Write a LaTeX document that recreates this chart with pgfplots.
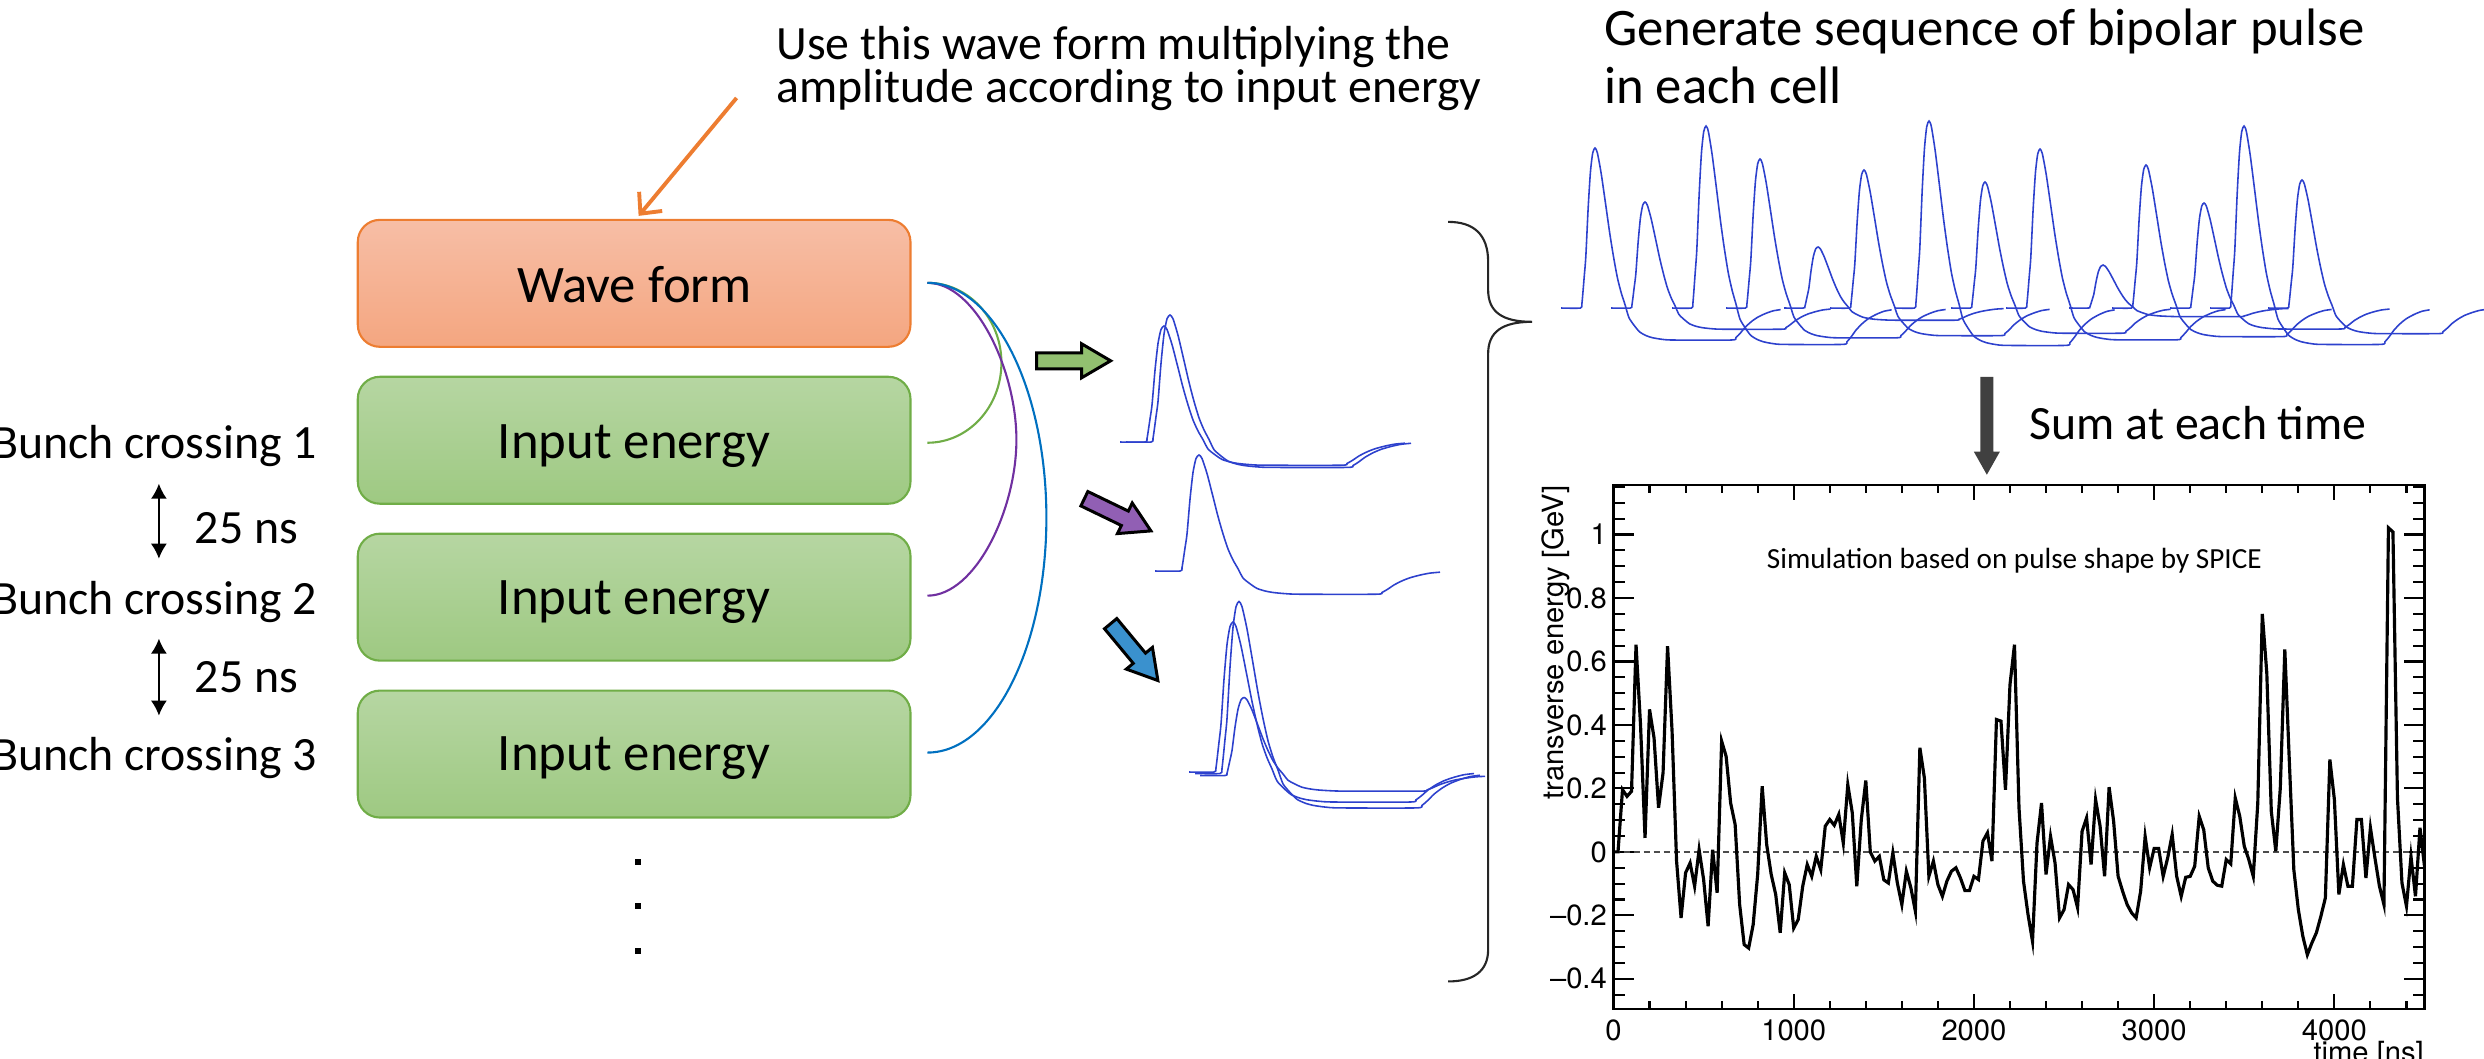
\documentclass[border=0pt]{standalone}
\usepackage{fontspec}
\setmainfont{Carlito}
\newfontfamily\helv{TeX Gyre Heros}
\usepackage{pgfplots}
\usepackage{pgfplotstable}
\pgfplotsset{compat=1.18}
\usetikzlibrary{arrows.meta}

\definecolor{pulseblue}{RGB}{45,65,205}
\definecolor{orline}{RGB}{237,125,49}
\definecolor{ortop}{RGB}{247,190,166}
\definecolor{orbot}{RGB}{244,166,128}
\definecolor{grline}{RGB}{112,173,71}
\definecolor{grtop}{RGB}{182,214,162}
\definecolor{grbot}{RGB}{158,201,130}
\definecolor{cgreen}{RGB}{112,173,71}
\definecolor{cpurple}{RGB}{112,48,160}
\definecolor{cblue}{RGB}{0,112,192}
\definecolor{agreen}{RGB}{146,192,112}
\definecolor{apurple}{RGB}{145,95,180}
\definecolor{ablue}{RGB}{58,145,206}
\definecolor{darrow}{RGB}{64,64,64}

\newcommand\fsA{\fontsize{13.6}{16}\selectfont}
\newcommand\fsB{\fontsize{15}{18}\selectfont}
\newcommand\fsBox{\fontsize{15}{18}\selectfont}
\newcommand\fsSim{\fontsize{8.3}{10}\selectfont}
\newcommand\fsTick{\helv\fontsize{8.3}{10}\selectfont}

\pgfplotsset{pl/.style={pulseblue, line width=0.45pt, smooth, tension=0.4, mark=none}}

% unit bipolar pulse shape (t in px, v normalised to peak)
\pgfplotstableread{
t v
-25 0
0 0
2 0.03
5 0.2
7 0.32
10 0.62
13 0.85
16 0.97
19 1.0
22 0.97
27 0.84
33 0.64
38 0.47
43 0.32
48 0.19
53 0.095
58 0.02
63 -0.06
70 -0.11
77 -0.15
85 -0.172
93 -0.185
105 -0.195
120 -0.2
196 -0.2
202 -0.185
208 -0.155
214 -0.12
222 -0.085
230 -0.058
240 -0.035
250 -0.018
260 -0.01
}\pulse

% summed signal
\pgfplotstableread{
t e
0 0.000
25 0.000
50 0.196
75 0.175
100 0.191
125 0.653
150 0.40
175 0.044
200 0.449
225 0.359
250 0.139
275 0.249
300 0.648
325 0.38
350 -0.029
375 -0.208
400 -0.066
425 -0.035
450 -0.108
475 0.007
500 -0.087
525 -0.234
550 0.007
575 -0.129
600 0.349
625 0.301
650 0.154
675 0.086
700 -0.166
725 -0.292
750 -0.303
775 -0.229
800 -0.071
825 0.207
850 0.023
875 -0.071
900 -0.134
925 -0.255
950 -0.066
975 -0.103
1000 -0.240
1025 -0.213
1050 -0.108
1075 -0.040
1100 -0.077
1125 -0.014
1150 -0.056
1175 0.081
1200 0.102
1225 0.084
1250 0.118
1275 0.028
1300 0.212
1325 0.123
1350 -0.108
1375 0.102
1400 0.225
1425 0.000
1450 -0.029
1475 -0.014
1500 -0.088
1525 -0.098
1550 -0.003
1575 -0.098
1600 -0.166
1625 -0.061
1650 -0.113
1675 -0.187
1700 0.328
1725 0.233
1750 -0.077
1775 -0.029
1800 -0.103
1825 -0.140
1850 -0.092
1875 -0.061
1900 -0.050
1925 -0.082
1950 -0.122
1975 -0.122
2000 -0.077
2025 -0.087
2050 0.034
2075 0.060
2100 -0.029
2125 0.417
2150 0.412
2175 0.196
2200 0.527
2225 0.653
2250 0.139
2275 -0.092
2300 -0.197
2325 -0.282
2350 0.028
2375 0.154
2400 -0.071
2425 0.049
2450 -0.035
2475 -0.208
2500 -0.182
2525 -0.103
2550 -0.119
2575 -0.176
2600 0.065
2625 0.107
2650 -0.040
2675 0.165
2700 0.081
2725 -0.077
2750 0.204
2775 0.097
2800 -0.077
2825 -0.124
2850 -0.166
2875 -0.192
2900 -0.208
2925 -0.124
2950 0.049
2975 -0.050
3000 0.011
3025 0.011
3050 -0.077
3075 -0.019
3100 0.055
3125 -0.077
3150 -0.140
3175 -0.080
3200 -0.077
3225 -0.045
3250 0.112
3275 0.070
3300 -0.050
3325 -0.092
3350 -0.105
3375 -0.108
3400 -0.024
3425 -0.038
3450 0.170
3475 0.112
3500 0.018
3525 -0.024
3550 -0.077
3575 0.154
3600 0.750
3625 0.564
3650 0.128
3675 0.002
3700 0.202
3725 0.638
3750 0.286
3775 -0.056
3800 -0.182
3825 -0.266
3850 -0.324
3875 -0.287
3900 -0.255
3925 -0.203
3950 -0.145
3975 0.291
4000 0.165
4025 -0.134
4050 -0.040
4075 -0.108
4100 -0.108
4125 0.102
4150 0.102
4175 -0.082
4200 0.076
4225 -0.019
4250 -0.108
4275 -0.166
4300 1.021
4325 1.008
4350 0.170
4375 -0.098
4400 -0.171
4425 -0.014
4450 -0.140
4475 0.076
4500 -0.045
}\sumdata

% block arrow: #1 x, #2 y (tail centre), #3 angle, #4 fill
\newcommand\blockarrow[4]{%
  \begin{scope}[shift={(#1,#2)}, rotate=#3]
    \filldraw[fill=#4, draw=black, line width=0.85pt, line join=miter]
      (0,-8) -- (45,-8) -- (45,-17) -- (74,0) -- (45,17) -- (45,8) -- (0,8) -- cycle;
  \end{scope}}

\begin{document}
\begin{tikzpicture}
\useasboundingbox (0,0) rectangle (24.84cm,-10.59cm);
\clip (0,0) rectangle (24.84cm,-10.59cm);

\begin{scope}[x=0.01cm, y=-0.01cm, every node/.style={inner sep=0pt, outer sep=0pt}]
  % top annotation
  \node[anchor=base west, font=\fsA] at (777,60) {Use this wave form multiplying the};
  \node[anchor=base west, font=\fsA] at (777,103) {amplitude according to input energy};
  \draw[orline, line width=1.1pt, -{Straight Barb[length=0.16cm, width=0.3cm]}] (737,98) -- (639,216);

  % boxes
  \draw[draw=orline, line width=0.6pt, top color=ortop, bottom color=orbot, rounded corners=0.22cm]
    (358,220) rectangle (911,347);
  \foreach \yy in {377,534,691}{
    \draw[draw=grline, line width=0.6pt, top color=grtop, bottom color=grbot, rounded corners=0.22cm]
      (358,\yy) rectangle (911,\yy+127);
  }
  \node[anchor=base, font=\fsBox] at (634.5,302.5) {Wave form};
  \node[anchor=base, font=\fsBox] at (634.5,459) {Input energy};
  \node[anchor=base, font=\fsBox] at (634.5,615) {Input energy};
  \node[anchor=base, font=\fsBox] at (634.5,771) {Input energy};

  % left labels
  \node[anchor=base east, font=\fsA] at (317,459) {Bunch crossing 1};
  \node[anchor=base east, font=\fsA] at (317,615) {Bunch crossing 2};
  \node[anchor=base east, font=\fsA] at (317,771) {Bunch crossing 3};
  \draw[line width=0.45pt, {Latex[length=0.15cm,width=0.16cm]}-{Latex[length=0.15cm,width=0.16cm]}] (159,484) -- (159,559);
  \draw[line width=0.45pt, {Latex[length=0.15cm,width=0.16cm]}-{Latex[length=0.15cm,width=0.16cm]}] (159,639) -- (159,716);
  \node[anchor=base west, font=\fsA] at (195,544) {25 ns};
  \node[anchor=base west, font=\fsA] at (195,693) {25 ns};

  % dots
  \foreach \yy in {862,907,952}{ \fill (635,\yy-3) rectangle (641,\yy+3); }

  % connectors
  \draw[cgreen, line width=0.6pt] (928,283) .. controls (969,283) and (1002,319) .. (1002,363)
        .. controls (1002,407) and (969,443) .. (928,443);
  \draw[cpurple, line width=0.6pt] (928,283) .. controls (976,283) and (1017,370) .. (1017,440)
        .. controls (1017,510) and (976,596) .. (928,596);
  \draw[cblue, line width=0.6pt] (928,283) .. controls (994,283) and (1047,389) .. (1047,518)
        .. controls (1047,647) and (994,753) .. (928,753);

  % block arrows
  \blockarrow{1037.3}{361}{0}{agreen}
  \blockarrow{1085}{499}{-25.8}{apurple}
  \blockarrow{1111.3}{624}{-50.3}{ablue}

  % brace
  \draw[black!85, line width=0.6pt] (1449,222) .. controls (1474,222) and (1489,234) .. (1489,262)
     -- (1489,290) .. controls (1489,312) and (1503,322) .. (1533,322)
     .. controls (1503,322) and (1489,332) .. (1489,354)
     -- (1489,950) .. controls (1489,972) and (1474,982) .. (1449,982);

  % right texts
  \node[anchor=base west, font=\fsB] at (1605,46) {Generate sequence of bipolar pulse};
  \node[anchor=base west, font=\fsB] at (1605,104) {in each cell};
  \node[anchor=base west, font=\fsA] at (2031,440) {Sum at each time};
  \fill[darrow] (1981.5,377) -- (1994.5,377) -- (1994.5,452) -- (2001,452) -- (1988,475)
     -- (1975,452) -- (1981.5,452) -- cycle;
  \node[anchor=base west, font=\fsSim] at (1768,569) {Simulation based on pulse shape by SPICE};
\end{scope}

% pulses, drawn in a hidden axis whose units are pixels
\begin{axis}[at={(0,0)}, anchor=north west, width=24.84cm, height=10.59cm, scale only axis,
  hide axis, xmin=0, xmax=2484, ymin=0, ymax=1059, y dir=reverse]
  % group 1
  \addplot[pl] table[x expr=\thisrow{t}+1145, y expr=442-116*\thisrow{v}]{\pulse};
  \addplot[pl] table[x expr=\thisrow{t}+1151, y expr=442-127*\thisrow{v}]{\pulse};
  % group 2
  \addplot[pl] table[x expr=\thisrow{t}+1180, y expr=571-116*\thisrow{v}]{\pulse};
  % group 3
  \addplot[pl] table[x expr=\thisrow{t}+1214, y expr=772-150*\thisrow{v}]{\pulse};
  \addplot[pl] table[x expr=\thisrow{t}+1220, y expr=773.5-172*\thisrow{v}]{\pulse};
  \addplot[pl] table[x expr=\thisrow{t}+1225, y expr=775.5-78*\thisrow{v}]{\pulse};
  % top train
  \addplot[pl] table[x expr=0.77*\thisrow{t}+1580.4, y expr=308-160*\thisrow{v}]{\pulse};
  \addplot[pl] table[x expr=0.77*\thisrow{t}+1630.4, y expr=308-106*\thisrow{v}]{\pulse};
  \addplot[pl] table[x expr=0.77*\thisrow{t}+1691.4, y expr=308-182*\thisrow{v}]{\pulse};
  \addplot[pl] table[x expr=0.77*\thisrow{t}+1745.4, y expr=308-149*\thisrow{v}]{\pulse};
  \addplot[pl] table[x expr=0.77*\thisrow{t}+1803.4, y expr=308-61*\thisrow{v}]{\pulse};
  \addplot[pl] table[x expr=0.77*\thisrow{t}+1849.4, y expr=308-138*\thisrow{v}]{\pulse};
  \addplot[pl] table[x expr=0.77*\thisrow{t}+1914.4, y expr=308-187*\thisrow{v}]{\pulse};
  \addplot[pl] table[x expr=0.77*\thisrow{t}+1970.4, y expr=308-126*\thisrow{v}]{\pulse};
  \addplot[pl] table[x expr=0.77*\thisrow{t}+2025.4, y expr=308-159*\thisrow{v}]{\pulse};
  \addplot[pl] table[x expr=0.77*\thisrow{t}+2088.4, y expr=308-43*\thisrow{v}]{\pulse};
  \addplot[pl] table[x expr=0.77*\thisrow{t}+2131.4, y expr=308-143*\thisrow{v}]{\pulse};
  \addplot[pl] table[x expr=0.77*\thisrow{t}+2189.4, y expr=308-105*\thisrow{v}]{\pulse};
  \addplot[pl] table[x expr=0.77*\thisrow{t}+2229.4, y expr=308-182*\thisrow{v}]{\pulse};
  \addplot[pl] table[x expr=0.77*\thisrow{t}+2287.4, y expr=308-128*\thisrow{v}]{\pulse};
\end{axis}

% main plot
\begin{axis}[at={(16.135cm,-10.09cm)}, anchor=south west,
  width=8.11cm, height=5.24cm, scale only axis,
  xmin=0, xmax=4500, ymin=-0.495, ymax=1.156,
  xtick={0,1000,2000,3000,4000}, xticklabels={0,1000,2000,3000,4000},
  minor xtick={200,400,600,800,1200,1400,1600,1800,2200,2400,2600,2800,3200,3400,3600,3800,4200,4400},
  ytick={-0.4,-0.2,0,0.2,0.4,0.6,0.8,1},
  yticklabels={\textendash 0.4,\textendash 0.2,0,0.2,0.4,0.6,0.8,1},
  minor ytick={-0.45,-0.35,-0.3,-0.25,-0.15,-0.1,-0.05,0.05,0.1,0.15,0.25,0.3,0.35,0.45,0.5,0.55,0.65,0.7,0.75,0.85,0.9,0.95,1.05,1.1,1.15},
  tick align=inside, xtick pos=both, ytick pos=both,
  major tick length=0.2cm, minor tick length=0.11cm,
  xtick style={/pgfplots/major tick length=0.15cm, /pgfplots/minor tick length=0.08cm},
  every tick/.style={black, line width=0.6pt},
  axis line style={line width=0.6pt},
  /pgf/number format/assume math mode=true,
  tick label style={font=\fsTick},
  yticklabel style={inner sep=0pt, xshift=-0.06cm},
  xticklabel style={inner sep=0pt, yshift=-0.10cm},
  ylabel={transverse energy [GeV]},
  ylabel style={at={(axis description cs:-0.0617,1)}, anchor=base east, inner sep=0pt, font=\fsTick},
  xlabel={time [ns]},
  xlabel style={at={(axis description cs:1,-0.061)}, anchor=north east, inner sep=0pt, font=\fsTick},
  clip=true]
  \addplot[black!70, line width=0.45pt, dash pattern=on 0.06cm off 0.04cm] coordinates {(0,0) (4500,0)};
  \addplot[black, line width=0.9pt] table[x=t, y=e]{\sumdata};
\end{axis}
\end{tikzpicture}
\end{document}
